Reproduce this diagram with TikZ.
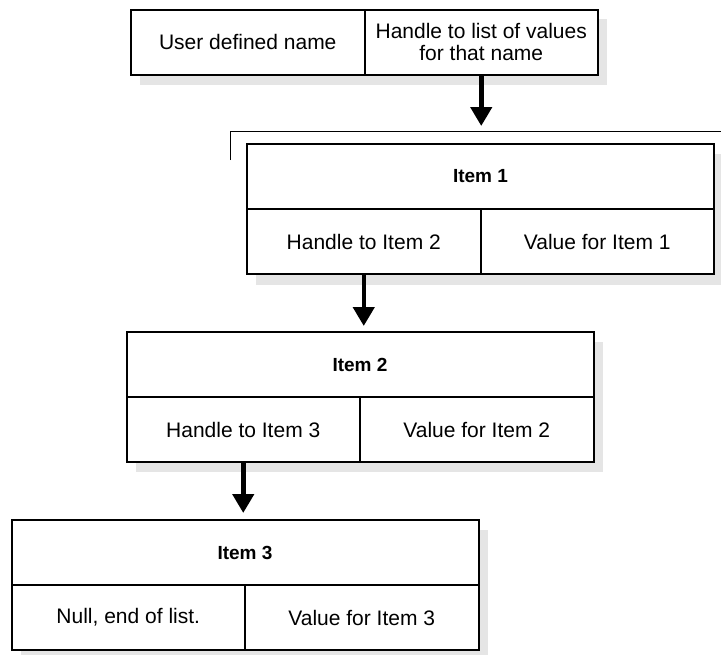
\documentclass[tikz,border=0pt]{standalone}
\usepackage{fontspec}
\setmainfont{Liberation Sans}
\usetikzlibrary{arrows.meta}
\begin{document}
\begin{tikzpicture}[x=1pt,y=1pt,
  cell/.style={draw, line width=2pt, fill=white, minimum width=233.5pt, minimum height=65pt,
    inner sep=0pt, font=\fontsize{21}{22}\selectfont, align=center},
  head/.style={cell, minimum width=467pt, font=\fontsize{19}{22}\selectfont\bfseries},
  shade/.style={fill=gray!20},
  link/.style={line width=4.5pt, -{Triangle[width=21pt,length=19pt]}},
  rule/.style={line width=1pt}
]
\useasboundingbox (0,0) rectangle (721,-654);
% drop shadows
\fill[shade] (140,-19) rectangle (607,-85);
\fill[shade] (256,-154) rectangle (723,-285);
\fill[shade] (136,-342) rectangle (603,-472);
\fill[shade] (21,-530) rectangle (488,-660);
% top record
\node[cell] (topL) at (247.75,-42) {User defined name};
\node[cell] (topR) at (481.25,-42) {Handle to list of values\\for that name};
% bracket line
\coordinate (c1) at (230,-160);
\coordinate (c2) at (230,-131);
\coordinate (c3) at (721,-131);
\draw[rule] (c1) -- (c2) -- (c3);
% Item 1
\node[head] (i1h) at (480.5,-176.5) {Item 1};
\node[cell] (i1l) at (363.75,-241.5) {Handle to Item 2};
\node[cell] (i1r) at (597.25,-241.5) {Value for Item 1};
% Item 2
\node[head] (i2h) at (360,-364.5) {Item 2};
\node[cell] (i2l) at (243.25,-429.5) {Handle to Item 3};
\node[cell] (i2r) at (476.75,-429.5) {Value for Item 2};
% Item 3
\node[head] (i3h) at (245,-552.5) {Item 3};
\node[cell] (i3l) at (128.25,-617.5) {Null, end of list.};
\node[cell] (i3r) at (361.75,-617.5) {Value for Item 3};
% connectors
\draw[link, shorten >=17pt] (topR.south) -- (topR.south |- i1h.north);
\draw[link, shorten >=5pt] (i1l.south) -- (i1l.south |- i2h.north);
\draw[link, shorten >=6pt] (i2l.south) -- (i2l.south |- i3h.north);
\end{tikzpicture}
\end{document}
